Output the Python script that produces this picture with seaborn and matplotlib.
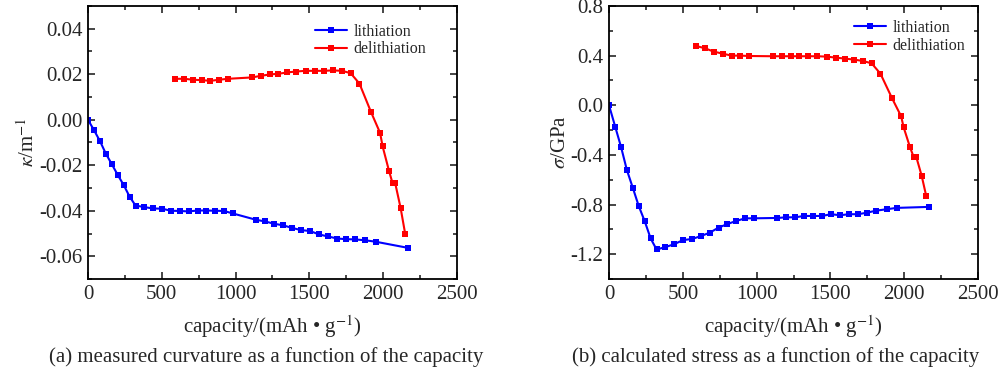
import pandas as pd
import seaborn as sns
import matplotlib
matplotlib.use("Agg")
import matplotlib.pyplot as plt
from matplotlib.ticker import AutoMinorLocator, MultipleLocator, FormatStrFormatter

# capacidade (mAh/g) - mesma para as duas figuras
cap_lit = [0, 42, 82, 121, 162, 201, 242, 282, 322, 382, 442, 502, 562, 622, 682,
           742, 802, 862, 922, 982, 1140, 1200, 1260, 1321, 1381, 1442, 1504, 1565,
           1626, 1688, 1749, 1811, 1880, 1948, 2167]
cap_del = [589, 651, 710, 770, 830, 890, 950, 1111, 1171, 1231, 1290, 1350, 1410,
           1475, 1535, 1598, 1660, 1720, 1779, 1839, 1918, 1979, 1996, 2039, 2063,
           2081, 2118, 2149]

# curvatura (1/m)
kappa_lit = [0, -0.0047, -0.0095, -0.0149, -0.0196, -0.0242, -0.0287, -0.0338, -0.0377,
             -0.0384, -0.0390, -0.0391, -0.0400, -0.0401, -0.0403, -0.0399, -0.0399,
             -0.0400, -0.0401, -0.0412, -0.0440, -0.0447, -0.0457, -0.0464, -0.0475,
             -0.0485, -0.0489, -0.0504, -0.0513, -0.0522, -0.0525, -0.0526, -0.0530,
             -0.0536, -0.0563]
kappa_del = [0.0180, 0.0180, 0.0176, 0.0174, 0.0171, 0.0176, 0.0180, 0.0186, 0.0193,
             0.0199, 0.0202, 0.0208, 0.0212, 0.0215, 0.0215, 0.0215, 0.0217, 0.0215,
             0.0205, 0.0159, 0.0033, -0.0058, -0.0117, -0.0224, -0.0278, -0.0278,
             -0.0388, -0.0502]

# tensao (GPa)
sigma_lit = [0, -0.173, -0.338, -0.522, -0.668, -0.811, -0.935, -1.073, -1.162, -1.143,
             -1.119, -1.086, -1.078, -1.054, -1.027, -0.986, -0.957, -0.932, -0.911,
             -0.911, -0.908, -0.903, -0.903, -0.892, -0.892, -0.892, -0.878, -0.886,
             -0.878, -0.878, -0.865, -0.849, -0.838, -0.827, -0.819]
sigma_del = [0.478, 0.459, 0.432, 0.416, 0.400, 0.400, 0.397, 0.395, 0.395, 0.395,
             0.395, 0.395, 0.395, 0.392, 0.384, 0.376, 0.368, 0.357, 0.338, 0.254,
             0.055, -0.089, -0.178, -0.338, -0.414, -0.414, -0.568, -0.732]

sns.set_style("ticks")
plt.rcParams["font.family"] = ["Liberation Serif", "DejaVu Serif"]
plt.rcParams["mathtext.fontset"] = "stix"
plt.rcParams["axes.unicode_minus"] = False

fig = plt.figure(figsize=(10.02, 3.74), dpi=100)
ax1 = fig.add_axes([0.0878, 0.254, 0.3683, 0.730])
ax2 = fig.add_axes([0.6078, 0.254, 0.3683, 0.730])

paineis = [
    (ax1, kappa_lit, kappa_del, r"$\kappa$/m$^{-1}$", (-0.07, 0.05), 0.02, "%.2f", (0.615, 0.935)),
    (ax2, sigma_lit, sigma_del, r"$\sigma$/GPa", (-1.4, 0.8), 0.4, "%.1f", (0.664, 0.949)),
]

for ax, ylit, ydel, ylab, ylim, passo, fmt, leg_pos in paineis:
    sns.lineplot(x=cap_lit, y=ylit, ax=ax, color="#0000ff", marker="s", markersize=5,
                 markeredgewidth=0, linewidth=1.5, estimator=None, label="lithiation")
    sns.lineplot(x=cap_del, y=ydel, ax=ax, color="#ff0000", marker="s", markersize=5,
                 markeredgewidth=0, linewidth=1.5, estimator=None, label="delithiation")
    ax.set_xlim(0, 2500)
    ax.set_ylim(*ylim)
    ax.xaxis.set_major_locator(MultipleLocator(500))
    ax.yaxis.set_major_locator(MultipleLocator(passo))
    ax.yaxis.set_major_formatter(FormatStrFormatter(fmt))
    ax.xaxis.set_minor_locator(AutoMinorLocator(2))
    ax.yaxis.set_minor_locator(AutoMinorLocator(2))
    ax.tick_params(which="both", direction="in", top=True, right=True, width=1.2,
                   labelsize=15, pad=4)
    ax.tick_params(which="major", length=5)
    ax.tick_params(which="minor", length=3)
    for s in ax.spines.values():
        s.set_linewidth(1.3)
        s.set_color("black")
    ax.set_xlabel("capacity/(mAh • g$^{-1}$)", fontsize=15, labelpad=7)
    ax.set_ylabel(ylab, fontsize=15, labelpad=0)
    ax.legend(loc="upper left", bbox_to_anchor=leg_pos, frameon=False, fontsize=11.5,
              handlelength=2.0, handletextpad=0.4, labelspacing=0.1, borderpad=0,
              borderaxespad=0)

fig.text(0.266, 0.045, "(a) measured curvature as a function of the capacity",
         ha="center", va="center", fontsize=15)
fig.text(0.774, 0.045, "(b) calculated stress as a function of the capacity",
         ha="center", va="center", fontsize=15)

fig.savefig("out.png", dpi=100)
